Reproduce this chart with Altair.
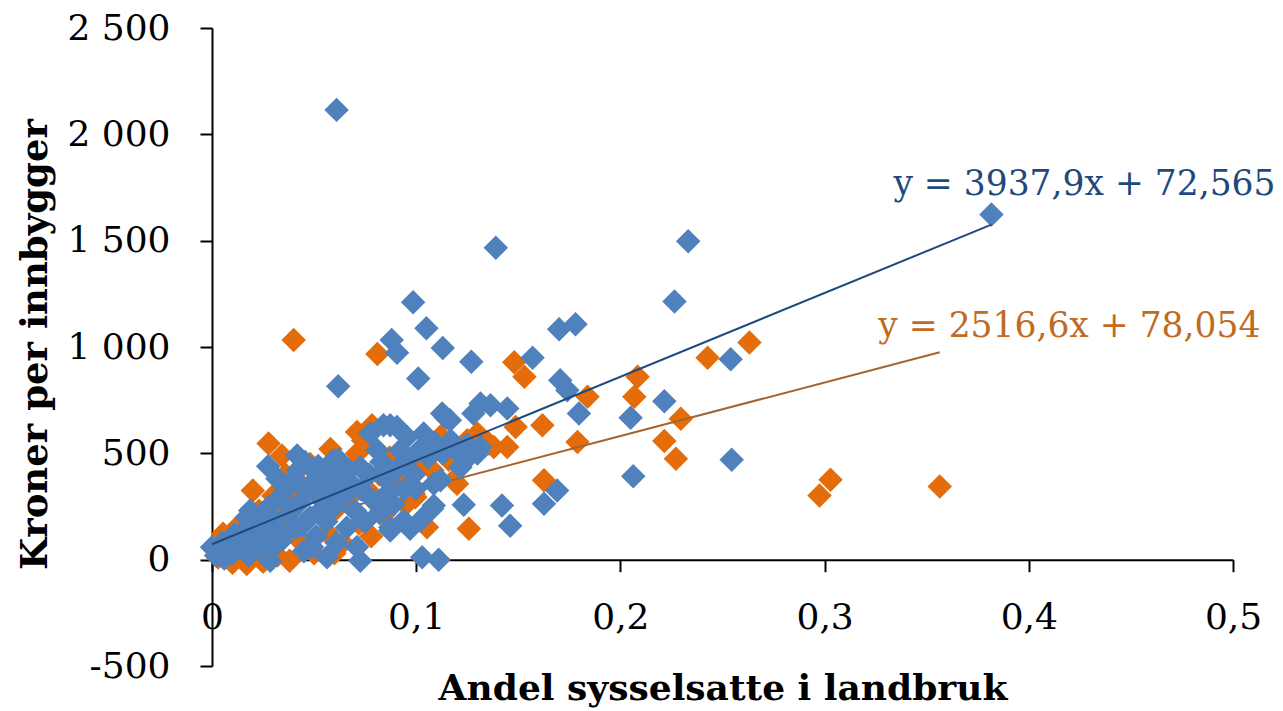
import altair as alt
import pandas as pd

# ---- data ----
blue_x = [0.061, 0.3817, 0.2332, 0.139, 0.2265, 0.0985, 0.178, 0.105, 0.170, 0.088,
          0.113, 0.0906, 0.157, 0.254, 0.127, 0.101, 0.1705, 0.0618, 0.174, 0.2215,
          0.1315, 0.1364, 0.1446, 0.1797, 0.1127, 0.128, 0.1143, 0.205, 0.1165, 0.084,
          0.0873, 0.0906, 0.0775, 0.1037, 0.0955, 0.1315, 0.081, 0.0922, 0.13, 0.0417,
          0.2545, 0.0595, 0.1241, 0.0456, 0.0275, 0.0726, 0.1217, 0.0497, 0.2063, 0.1119,
          0.1086, 0.0996, 0.169, 0.0857, 0.1626, 0.1233, 0.142, 0.1086, 0.1078, 0.0187,
          0.102, 0.0939, 0.146, 0.0873, 0.097, 0.0873, 0.0, 0.1029, 0.0563, 0.111,
          0.0726, 0.0285,
          0.002, 0.004, 0.006, 0.008, 0.010, 0.012, 0.014, 0.016, 0.018, 0.020,
          0.022, 0.024, 0.026, 0.028, 0.030, 0.031, 0.033, 0.035, 0.036, 0.038,
          0.040, 0.041, 0.043, 0.045, 0.046, 0.048, 0.050, 0.051, 0.053, 0.055,
          0.056, 0.058, 0.060, 0.061, 0.063, 0.065, 0.066, 0.068, 0.070, 0.071,
          0.073, 0.075, 0.077, 0.079, 0.082, 0.083, 0.086, 0.089, 0.091, 0.094,
          0.096, 0.099, 0.102, 0.106, 0.109, 0.113, 0.117, 0.120, 0.125,
          0.005, 0.011, 0.017, 0.023, 0.029, 0.034, 0.039, 0.044, 0.049, 0.054,
          0.032, 0.042, 0.052, 0.062, 0.067]
blue_y = [2115, 1623, 1497, 1467, 1214, 1210, 1107, 1088, 1083, 1033,
          995, 973, 950, 942, 931, 852, 844, 816, 797, 745,
          734, 726, 711, 687, 687, 687, 671, 667, 656, 632,
          632, 624, 593, 593, 577, 530, 514, 514, 499, 490,
          470, 467, 467, 459, 439, 435, 435, 420, 392, 373,
          357, 333, 325, 310, 263, 258, 255, 255, 239, 231,
          184, 184, 160, 152, 145, 137, 58, 11, 11, 0,
          -5, -5,
          20, 45, 5, 70, 30, 100, 55, 140, 20, 170,
          90, 200, 130, 250, 60, 180, 290, 120, 330, 220,
          380, 150, 270, 40, 330, 200, 370, 110, 290, 410,
          180, 340, 250, 80, 390, 300, 150, 360, 230, 60,
          330, 180, 400, 280, 220, 460, 370, 260, 430, 330,
          470, 400, 520, 480, 550, 500, 560, 510, 540,
          80, 120, 200, 60, 110, 90, 240, 160, 60, 240,
          380, 420, 440, 470, 420]

orange_x = [0.040, 0.2632, 0.081, 0.2427, 0.148, 0.153, 0.2084, 0.1839, 0.2068, 0.2296,
            0.1618, 0.0784, 0.1487, 0.071, 0.13, 0.125, 0.2215, 0.179, 0.0277, 0.1356,
            0.1446, 0.138, 0.071, 0.0342, 0.2272, 0.0906, 0.3029, 0.066, 0.092, 0.1184,
            0.1626, 0.12, 0.3564, 0.020, 0.0988, 0.2975, 0.0996, 0.0792, 0.1053, 0.1258,
            0.0054, 0.0465,
            0.003, 0.006, 0.010, 0.012, 0.015, 0.017, 0.020, 0.023, 0.025, 0.027,
            0.030, 0.032, 0.034, 0.036, 0.038, 0.040, 0.042, 0.044, 0.046, 0.048,
            0.050, 0.052, 0.054, 0.056, 0.058, 0.060, 0.062, 0.064, 0.067, 0.069,
            0.072, 0.074, 0.076, 0.078, 0.082, 0.084, 0.087, 0.089, 0.095, 0.100,
            0.104, 0.108, 0.112, 0.116, 0.060]
orange_y = [1033, 1021, 967, 950, 928, 860, 860, 766, 766, 663,
            632, 632, 624, 600, 593, 561, 558, 553, 546, 546,
            530, 530, 499, 490, 475, 388, 376, 373, 373, 373,
            373, 357, 344, 325, 310, 302, 294, 278, 152, 145,
            122, 58,
            10, 60, -15, 150, 90, -20, 40, 230, -10, 130,
            300, 20, 200, 400, -5, 280, 100, 350, 180, 450,
            30, 300, 380, 130, 520, 230, 430, 80, 290, 440,
            170, 560, 330, 110, 400, 210, 480, 340, 260, 450,
            500, 420, 580, 470, 30]

# trendline equations as printed on the chart
blue_slope, blue_intercept = 3937.9, 72.565
orange_slope, orange_intercept = 2516.6, 78.054
eq_text = ["y = 3937,9x + 72,565", "y = 2516,6x + 78,054"]
eq_x = [0.3337, 0.3263]
eq_y = [1764, 1094]

x_ticks = [0, 0.1, 0.2, 0.3, 0.4, 0.5]
y_ticks = [-500, 0, 500, 1000, 1500, 2000, 2500]

# ---- tables ----
blue = pd.DataFrame({"x": blue_x, "y": blue_y})
orange = pd.DataFrame({"x": orange_x, "y": orange_y})
bx = [0.0, max(blue_x)]
ox = [0.0, max(orange_x)]
blue_line = pd.DataFrame({"x": bx, "y": [blue_slope * v + blue_intercept for v in bx]})
orange_line = pd.DataFrame({"x": ox, "y": [orange_slope * v + orange_intercept for v in ox]})
lab_blue = pd.DataFrame({"x": [eq_x[0]], "y": [eq_y[0]], "t": [eq_text[0]]})
lab_orange = pd.DataFrame({"x": [eq_x[1]], "y": [eq_y[1]], "t": [eq_text[1]]})

FONT = "DejaVu Serif"
BLUE = "#4F81BD"
ORANGE = "#E46C0A"

W, H = 1021, 638

x_enc = alt.X(
    "x:Q",
    scale=alt.Scale(domain=[0, 0.5], nice=False, zero=False),
    axis=alt.Axis(
        values=x_ticks,
        labelExpr="replace(format(datum.value, '.1~f'), '.', ',')",
        grid=False, offset=-(H / 6),
        tickSize=12, tickWidth=2, tickColor="black",
        domainColor="black", domainWidth=2,
        labelFont=FONT, labelFontSize=36, labelColor="black", labelPadding=29,
        labelFlush=False, labelOverlap=False, labelBaseline="top",
        title="Andel sysselsatte i landbruk", titleFont=FONT, titleFontSize=36,
        titleFontWeight="bold", titleColor="black", titleY=129, titleBaseline="middle",
    ),
)
y_enc = alt.Y(
    "y:Q",
    scale=alt.Scale(domain=[-500, 2500], nice=False, zero=False),
    axis=alt.Axis(
        values=y_ticks,
        labelExpr="replace(replace(format(datum.value, ','), ',', ' '), '\u2212', '-')",
        grid=False,
        tickSize=12, tickWidth=2, tickColor="black",
        domainColor="black", domainWidth=2,
        labelFont=FONT, labelFontSize=36, labelColor="black", labelPadding=30,
        labelFlush=False, labelOverlap=False,
        title="Kroner per innbygger", titleFont=FONT, titleFontSize=37,
        titleFontWeight="bold", titleColor="black",
        titleX=-177, titleY=316, titleAngle=270, titleBaseline="middle", titleAlign="center",
    ),
)

pts_orange = alt.Chart(orange).mark_point(
    shape="diamond", filled=True, size=600, opacity=1, color=ORANGE, strokeWidth=0
).encode(x=x_enc, y=y_enc)
ln_orange = alt.Chart(orange_line).mark_line(color="#A8632B", strokeWidth=2).encode(x=x_enc, y=y_enc)
pts_blue = alt.Chart(blue).mark_point(
    shape="diamond", filled=True, size=600, opacity=1, color=BLUE, strokeWidth=0
).encode(x=x_enc, y=y_enc)
ln_blue = alt.Chart(blue_line).mark_line(color="#1F497D", strokeWidth=2).encode(x=x_enc, y=y_enc)
txt_blue = alt.Chart(lab_blue).mark_text(
    align="left", baseline="middle", font=FONT, fontSize=34.5, color="#1F497D"
).encode(x=x_enc, y=y_enc, text="t:N")
txt_orange = alt.Chart(lab_orange).mark_text(
    align="left", baseline="middle", font=FONT, fontSize=34.5, color="#C06A22"
).encode(x=x_enc, y=y_enc, text="t:N")

chart = alt.layer(pts_orange, ln_orange, pts_blue, ln_blue, txt_blue, txt_orange).properties(
    width=W, height=H,
    autosize=alt.AutoSizeParams(type="none"),
    padding={"left": 204, "top": 20, "right": 42, "bottom": 45},
).configure_view(stroke=None)

chart.save("out.html", embed_options={"renderer": "svg", "actions": False})
